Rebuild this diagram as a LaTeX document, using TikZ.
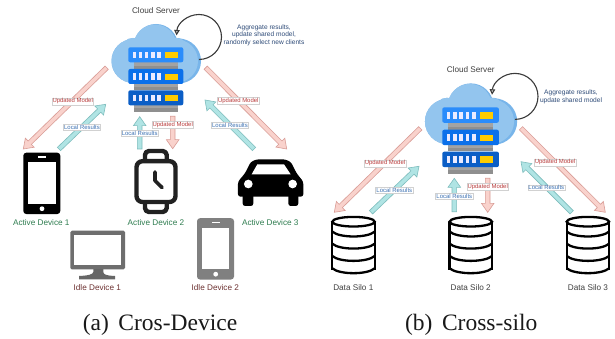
\documentclass[tikz,border=0pt]{standalone}
\usepackage{fontspec}
\setmainfont{Liberation Sans}
\newfontfamily\capfont{Liberation Serif}
\usetikzlibrary{calc,arrows.meta}
\definecolor{cloudA}{HTML}{93C5EE}
\definecolor{cloudB}{HTML}{78B5EA}
\definecolor{rackA}{HTML}{2A8CFB}
\definecolor{rackB}{HTML}{0B70EA}
\definecolor{rackC}{HTML}{0B5EC6}
\definecolor{barA}{HTML}{A3A3A3}
\definecolor{barB}{HTML}{8F8F8F}
\definecolor{gold}{HTML}{FFCC00}
\definecolor{updF}{HTML}{F9D2CC}
\definecolor{updD}{HTML}{D99C96}
\definecolor{locF}{HTML}{B0E4E4}
\definecolor{locD}{HTML}{7DBDBD}
\definecolor{updT}{HTML}{B93C3C}
\definecolor{locT}{HTML}{3B70B2}
\definecolor{actT}{HTML}{2F7D50}
\definecolor{idlT}{HTML}{6E3333}
\definecolor{noteT}{HTML}{2E4B78}
\definecolor{loopC}{HTML}{3A3A3A}
\tikzset{
  x=1pt,y=-1pt,
  upd/.style={fill=updF,draw=updD,line width=.6pt,line join=miter},
  loc/.style={fill=locF,draw=locD,line width=.6pt,line join=miter},
  tag/.style={fill=white,draw=black!18,line width=.5pt,inner sep=.7pt,font=\fontsize{5.95}{7}\selectfont},
  updtag/.style={tag,text=updT},
  loctag/.style={tag,text=locT},
  plain/.style={inner sep=0pt,font=\fontsize{8.2}{9}\selectfont,text=black!75},
  active/.style={plain,text=actT},
  idle/.style={plain,text=idlT},
  note/.style={inner sep=0pt,align=center,font=\fontsize{6.6}{7.7}\selectfont,text=noteT},
  caption/.style={inner sep=0pt,anchor=base,font=\capfont\fontsize{23.5}{26}\selectfont,text=black!90},
  loopline/.style={draw=loopC,line width=1.1pt,-{Triangle[length=5.5pt,width=5.5pt,fill=black!12]}},
  pics/srv/.style={code={
    \fill[cloudB] (-22.5,-4) circle[radius=22] (22.5,-4) circle[radius=22.5] (0,-19) circle[radius=22]
      (-23,-15) circle[radius=12] (22,-15) circle[radius=12];
    \fill[cloudB] (-23,0) rectangle (23,16.7);
    \fill[cloudA] (-22.5,-4) circle[radius=22] (20.5,-4) circle[radius=21.5] (-1,-19) circle[radius=21.5]
      (-23,-15) circle[radius=12] (20.5,-15) circle[radius=12];
    \fill[cloudA] (-23,0) rectangle (21,16.4);
    \fill[barA] (-21.7,-3) rectangle (21.7,4.5);
    \fill[barB] (-21.7,1.5) rectangle (21.7,4);
    \fill[barA] (-21.7,18) rectangle (21.7,25);
    \fill[barB] (-21.7,22) rectangle (21.7,25);
    \fill[barA] (-21.7,39) rectangle (21.7,46.7);
    \fill[barB] (-21.7,43) rectangle (21.7,46.7);
    \foreach \t/\c in {-17.7/rackA,4/rackB,25.3/rackC}{
      \fill[\c,rounded corners=2pt] (-27.7,\t) rectangle (27.3,\t+15);
      \foreach \a in {-23.3,-17,-11,-4.7,1.3}
        \fill[white!92!blue] (\a,\t+4.3) rectangle +(3.3,6.7);
      \fill[gold] (9.3,\t+4.7) rectangle +(12.4,6.3);
    }
  }},
  pics/phone/.style={code={
    \fill[#1,rounded corners=3pt] (0,0) rectangle (37,61.3);
    \fill[white] (5,9.6) rectangle (32.4,51);
    \fill[white] (15,3.8) rectangle (23,5);
    \fill[white] (18.7,56) circle[radius=2.4];
  }},
  pics/silo/.style={code={
    \begin{scope}[line width=2.3pt,draw=black]
      \draw (0,5.7) ellipse[x radius=21.2,y radius=4.8];
      \draw (-21.2,5.7) -- (-21.2,54);
      \draw (21.2,5.7) -- (21.2,54);
      \foreach \h in {15.6,27.7,40,52.3}
        \draw (-21.2,\h) .. controls (-14,\h+6.5) and (14,\h+6.5) .. (21.2,\h);
    \end{scope}
  }}
}
\newcommand\fatarrow[3]{%
  \coordinate (tipbase) at ($(#3)!9pt!(#2)$);
  \draw[#1] ($(#2)!2.3pt!90:(#3)$) -- ($(tipbase)!2.3pt!-90:(#2)$) -- ($(tipbase)!6.3pt!-90:(#2)$) -- (#3)
    -- ($(tipbase)!6.3pt!90:(#2)$) -- ($(tipbase)!2.3pt!90:(#2)$) -- ($(#2)!2.3pt!-90:(#3)$) -- cycle;
}
\begin{document}
\begin{tikzpicture}
\useasboundingbox (0,0) rectangle (615,339);
\fill[white] (0,0) rectangle (615,339);

% ---------- left panel
\pic at (156,65) {srv};
\draw[loopline] (199,59.5) arc[start angle=90,end angle=-176,radius=22.5];
\node[plain] (csa) at (156,10.3) {Cloud Server};
\node[note] (nta) at (264,35) {Aggregate results,\\update shared model,\\randomly select new clients};

\foreach \n/\x/\y in {ua1/106.7/67.7,ua2/23.3/149,la1/59/149,la2/105.7/104.3,lb1/139.7/149,lb2/139.7/116.7,
  ub1/172.7/116.3,ub2/172.7/148.7,lc1/254/149,lc2/205/100,uc1/205.7/67.7,uc2/286.7/149}
  \coordinate (\n) at (\x,\y);
\fatarrow{upd}{ua1}{ua2}
\fatarrow{loc}{la1}{la2}
\fatarrow{loc}{lb1}{lb2}
\fatarrow{upd}{ub1}{ub2}
\fatarrow{loc}{lc1}{lc2}
\fatarrow{upd}{uc1}{uc2}
\node[updtag] (t1) at (72.7,101.3) {Updated Model};
\node[loctag] (t2) at (82,127.3) {Local Results};
\node[loctag] (t3) at (139.7,133.3) {Local Results};
\node[updtag] (t4) at (172.7,124.7) {Updated Model};
\node[loctag] (t5) at (230,125.3) {Local Results};
\node[updtag] (t6) at (238.3,100.7) {Updated Model};

% devices
\pic at (23.3,152.7) {phone=black};
\pic at (197,218.2) {phone={black!50}};
% watch
\begin{scope}[draw=black!87,line width=4.4pt,line cap=round,line join=round]
  \draw[rounded corners=4pt] (145,160) -- (145,151) -- (166.7,151) -- (166.7,160);
  \draw[rounded corners=4pt] (145,203) -- (145,212) -- (166.7,212) -- (166.7,203);
  \draw[rounded corners=6pt,fill=white] (136.5,161.2) rectangle (175.5,202);
  \draw[line width=3.6pt] (155,172) -- (155,180.7) -- (162,187.5);
\end{scope}
% car
\begin{scope}[shift={(0,140)},x=.3333pt,y=-.3333pt]
  \fill[black,rounded corners=2.5pt] (714,170) -- (714,125) -- (735,100) -- (752,66) -- (770,58) -- (855,58)
     -- (873,66) -- (890,100) -- (910,125) -- (910,170) -- cycle;
  \fill[black,rounded corners=2.5pt] (728,160) rectangle (760,198);
  \fill[black,rounded corners=2.5pt] (865,160) rectangle (895,198);
  \fill[white] (755,103) -- (772,73) -- (852,73) -- (872,103) -- cycle;
  \fill[white] (745,132) circle[radius=13];
  \fill[white] (878,132) circle[radius=13];
\end{scope}
% monitor
\fill[black!57,rounded corners=1.5pt] (70.3,230.7) rectangle (125,269.3);
\fill[white] (74.3,234.7) rectangle (120.7,265.3);
\fill[black!60] (93.3,269) -- (103.3,269) -- (103.3,272) .. controls (103.5,274.5) and (106,275.6) .. (115,276) -- (115,279.3)
   -- (79,279.3) -- (79,276) .. controls (88,275.6) and (93,274.5) .. (93.3,272) -- cycle;

\node[active] (d1) at (41.3,222.7) {Active Device 1};
\node[active] (d2) at (156,222.7) {Active Device 2};
\node[active] (d3) at (270.3,222.7) {Active Device 3};
\node[idle] (i1) at (97.3,287.7) {Idle Device 1};
\node[idle] (i2) at (215.3,287.7) {Idle Device 2};
\node[caption] (capa) at (160,330) {(a)\hspace{.41em}Cros-Device};

% ---------- right panel
\pic[scale=1.03] at (470.8,125.6) {srv};
\draw[loopline] (515,119.4) arc[start angle=90,end angle=-176,radius=23];
\node[plain] (csb) at (470.7,69.7) {Cloud Server};
\node[note] (ntb) at (571,96.8) {Aggregate results,\\update shared model};

\foreach \n/\x/\y in {va1/420.3/128.3,va2/334.3/212.3,ma1/371/212.3,ma2/419/166.3,mb1/454.3/211.7,mb2/454.3/178.3,
  vb1/487.7/178.3,vb2/487.7/212.3,mc1/571.7/212.3,mc2/521/161.7,vc1/521/128.3,vc2/605.3/212.3}
  \coordinate (\n) at (\x,\y);
\fatarrow{upd}{va1}{va2}
\fatarrow{loc}{ma1}{ma2}
\fatarrow{loc}{mb1}{mb2}
\fatarrow{upd}{vb1}{vb2}
\fatarrow{loc}{mc1}{mc2}
\fatarrow{upd}{vc1}{vc2}
\node[updtag] (s1) at (385,163.3) {Updated Model};
\node[loctag] (s2) at (394.3,190) {Local Results};
\node[loctag] (s3) at (454.3,196.3) {Local Results};
\node[updtag] (s4) at (487.7,187) {Updated Model};
\node[loctag] (s5) at (546.3,187.7) {Local Results};
\node[updtag] (s6) at (555,162.3) {Updated Model};

\pic at (353.5,216) {silo};
\pic at (470.8,216) {silo};
\pic at (587.9,216) {silo};
\node[plain] (b1) at (353.3,287.7) {Data Silo 1};
\node[plain] (b2) at (470.7,287.7) {Data Silo 2};
\node[plain] (b3) at (588,287.7) {Data Silo 3};
\node[caption] (capb) at (471.2,330) {(b)\hspace{.41em}Cross-silo};
\end{tikzpicture}
\end{document}
